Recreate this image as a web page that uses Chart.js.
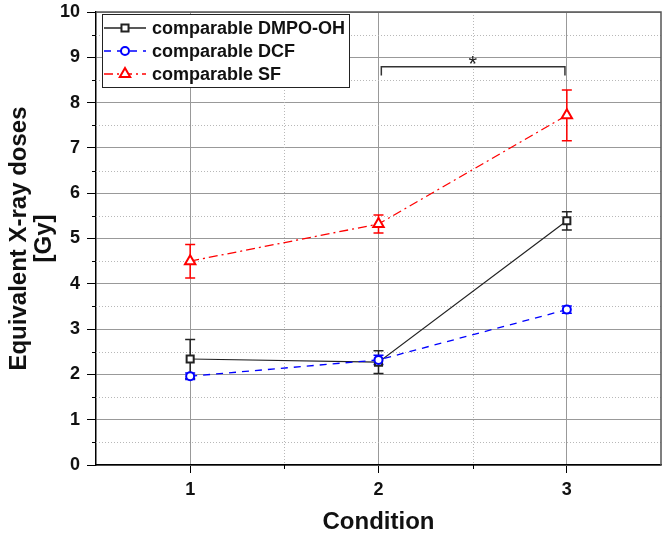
<!DOCTYPE html>
<html>
<head>
<meta charset="utf-8">
<script src="https://cdn.jsdelivr.net/npm/chart.js@4"></script>
<style>
  html, body { margin: 0; padding: 0; background: #fff; overflow: hidden; }
  #wrap { width: 663px; height: 534px; overflow: hidden; }
</style>
</head>
<body>
<div id="wrap"><canvas id="doseChart" width="669" height="534"></canvas></div>
<script>
// values
const conditions = [1, 2, 3];
const dmpoValues = [2.34, 2.27, 5.39];
const dmpoErrors = [0.43, 0.25, 0.2];
const dcfValues = [1.96, 2.32, 3.43];
const dcfErrors = [0.07, 0.1, 0.08];
const sfValues = [4.5, 5.32, 7.72];
const sfErrors = [0.37, 0.2, 0.56];
const seriesNames = ['comparable DMPO-OH', 'comparable DCF', 'comparable SF'];
const xTicks = [1, 2, 3];
const yTicks = [0, 1, 2, 3, 4, 5, 6, 7, 8, 9, 10];
// significance bracket between condition 2 and 3
const bracketX = [2.015, 2.015, 2.99, 2.99];
const bracketY = [8.6, 8.79, 8.79, 8.6];
const starX = [2.5];
const starY = [8.93];

const FONT = "'Liberation Sans', Arial, sans-serif";

const toPoints = (xs, ys) => xs.map((x, i) => ({ x: x, y: ys[i] }));
const midpoints = arr => arr.slice(1).map((v, i) => (v + arr[i]) / 2);
const noPadding = () => ({ left: 0, top: 0, right: 0, bottom: 0 });

const extrasPlugin = {
    id: 'extras',
    beforeDatasetsDraw(chart) {
        const { ctx, chartArea: a, scales: { x, y } } = chart;
        ctx.save();
        // dotted minor grid
        ctx.strokeStyle = '#b8b8b8';
        ctx.lineWidth = 1;
        ctx.setLineDash([1, 2]);
        midpoints(yTicks).forEach(v => {
            const py = Math.round(y.getPixelForValue(v)) + 0.5;
            ctx.beginPath(); ctx.moveTo(a.left, py); ctx.lineTo(a.right, py); ctx.stroke();
        });
        midpoints(xTicks).forEach(v => {
            const px = Math.round(x.getPixelForValue(v)) + 0.5;
            ctx.beginPath(); ctx.moveTo(px, a.top); ctx.lineTo(px, a.bottom); ctx.stroke();
        });
        ctx.setLineDash([]);
        // minor tick marks
        ctx.strokeStyle = '#000';
        midpoints(yTicks).forEach(v => {
            const py = Math.round(y.getPixelForValue(v)) + 0.5;
            ctx.beginPath(); ctx.moveTo(a.left - 4, py); ctx.lineTo(a.left, py); ctx.stroke();
        });
        midpoints(xTicks).forEach(v => {
            const px = Math.round(x.getPixelForValue(v)) + 0.5;
            ctx.beginPath(); ctx.moveTo(px, a.bottom); ctx.lineTo(px, a.bottom + 4); ctx.stroke();
        });
        // top / right frame
        ctx.strokeStyle = '#555';
        ctx.lineWidth = 1.5;
        ctx.beginPath();
        ctx.moveTo(a.left, a.top); ctx.lineTo(a.right, a.top); ctx.lineTo(a.right, a.bottom);
        ctx.stroke();
        // error bars
        chart.data.datasets.forEach((ds, i) => {
            if (!ds.errors) return;
            const meta = chart.getDatasetMeta(i);
            ctx.strokeStyle = ds.borderColor;
            ctx.lineWidth = 1.5;
            meta.data.forEach((pt, j) => {
                const v = ds.data[j].y;
                const top = y.getPixelForValue(v + ds.errors[j]);
                const bot = y.getPixelForValue(v - ds.errors[j]);
                ctx.beginPath();
                ctx.moveTo(pt.x, top); ctx.lineTo(pt.x, bot);
                ctx.moveTo(pt.x - 5, top); ctx.lineTo(pt.x + 5, top);
                ctx.moveTo(pt.x - 5, bot); ctx.lineTo(pt.x + 5, bot);
                ctx.stroke();
            });
        });
        ctx.restore();
    },
    afterDraw(chart) {
        const { ctx, chartArea: a, scales: { x, y } } = chart;
        ctx.save();
        // asterisk
        ctx.fillStyle = '#222';
        ctx.font = '22px ' + FONT;
        ctx.textAlign = 'center';
        ctx.textBaseline = 'middle';
        ctx.fillText('*', x.getPixelForValue(starX[0]), y.getPixelForValue(starY[0]) + 4);

        // boxed legend
        const x0 = a.left + 6, y0 = a.top + 2, w = 247, h = 73;
        ctx.fillStyle = '#fff';
        ctx.fillRect(x0, y0, w, h);
        ctx.strokeStyle = '#222';
        ctx.lineWidth = 1;
        ctx.strokeRect(x0 + 0.5, y0 + 0.5, w, h);
        chart.data.datasets.forEach((ds, i) => {
            if (!ds.inLegend) return;
            const ly = y0 + 14 + i * 23;
            ctx.strokeStyle = ds.borderColor;
            ctx.lineWidth = 1.5;
            ctx.setLineDash(ds.borderDash || []);
            ctx.beginPath(); ctx.moveTo(x0 + 2, ly); ctx.lineTo(x0 + 44, ly); ctx.stroke();
            ctx.setLineDash([]);
            ctx.fillStyle = '#fff';
            ctx.lineWidth = 2;
            Chart.helpers.drawPoint(ctx, {
                pointStyle: ds.pointStyle, radius: ds.pointRadius, rotation: 0, borderWidth: 2
            }, x0 + 23, ly);
            ctx.fillStyle = '#111';
            ctx.font = 'bold 18px ' + FONT;
            ctx.textAlign = 'left';
            ctx.textBaseline = 'middle';
            ctx.fillText(ds.label, x0 + 50, ly + 1);
        });
        ctx.restore();
    }
};

const ctx = document.getElementById('doseChart').getContext('2d');
const doseChart = new Chart(ctx, {
    type: 'scatter',
    data: {
        datasets: [
            {
                label: seriesNames[0],
                data: toPoints(conditions, dmpoValues),
                errors: dmpoErrors,
                inLegend: true,
                showLine: true,
                borderColor: '#222',
                backgroundColor: '#fff',
                borderWidth: 1.2,
                pointStyle: 'rect',
                pointRadius: 5,
                pointBorderWidth: 2,
                order: 3
            },
            {
                label: seriesNames[1],
                data: toPoints(conditions, dcfValues),
                errors: dcfErrors,
                inLegend: true,
                showLine: true,
                borderColor: '#0000ff',
                backgroundColor: '#fff',
                borderWidth: 1.3,
                borderDash: [7, 6],
                pointStyle: 'circle',
                pointRadius: 4,
                pointBorderWidth: 2,
                order: 1
            },
            {
                label: seriesNames[2],
                data: toPoints(conditions, sfValues),
                errors: sfErrors,
                inLegend: true,
                showLine: true,
                borderColor: '#ff0000',
                backgroundColor: '#fff',
                borderWidth: 1.3,
                borderDash: [9, 4, 2, 4],
                pointStyle: 'triangle',
                pointRadius: 6,
                pointBorderWidth: 2,
                order: 2
            },
            {
                label: 'bracket',
                data: toPoints(bracketX, bracketY),
                showLine: true,
                borderColor: '#333',
                borderWidth: 1.5,
                pointRadius: 0,
                order: 4
            }
        ]
    },
    options: {
        responsive: false,
        animation: false,
        devicePixelRatio: 1,
        layout: { padding: { top: 12, right: 2, left: 0, bottom: 0 } },
        plugins: {
            legend: { display: false },
            tooltip: { enabled: false }
        },
        scales: {
            x: {
                type: 'linear',
                min: 0.5,
                max: 3.5,
                afterBuildTicks: s => { s.ticks = xTicks.map(v => ({ value: v })); },
                afterFit: s => { s.height = 69; s.getPadding = noPadding; },
                grid: { color: '#999', lineWidth: 1, tickLength: 8, tickColor: '#000' },
                border: { color: '#000', width: 1.5 },
                ticks: {
                    color: '#111', padding: 6, maxRotation: 0,
                    font: { family: FONT, size: 18, weight: 'bold' }
                },
                title: {
                    display: true, text: 'Condition', color: '#111',
                    font: { family: FONT, size: 24, weight: 'bold', lineHeight: 1 },
                    padding: { top: 0, bottom: 0 }
                }
            },
            y: {
                min: 0,
                max: 10,
                afterBuildTicks: s => { s.ticks = yTicks.map(v => ({ value: v })); },
                afterFit: s => { s.width = 96; s.getPadding = noPadding; },
                grid: { color: '#999', lineWidth: 1, tickLength: 9, tickColor: '#000' },
                border: { color: '#000', width: 1.5 },
                ticks: {
                    color: '#111', padding: 7,
                    font: { family: FONT, size: 18, weight: 'bold' }
                },
                title: {
                    display: true, text: ['Equivalent X-ray doses', '[Gy]'], color: '#111',
                    font: { family: FONT, size: 24, weight: 'bold', lineHeight: 1.05 },
                    padding: { top: 7, bottom: 0 }
                }
            }
        }
    },
    plugins: [extrasPlugin]
});
</script>
</body>
</html>
